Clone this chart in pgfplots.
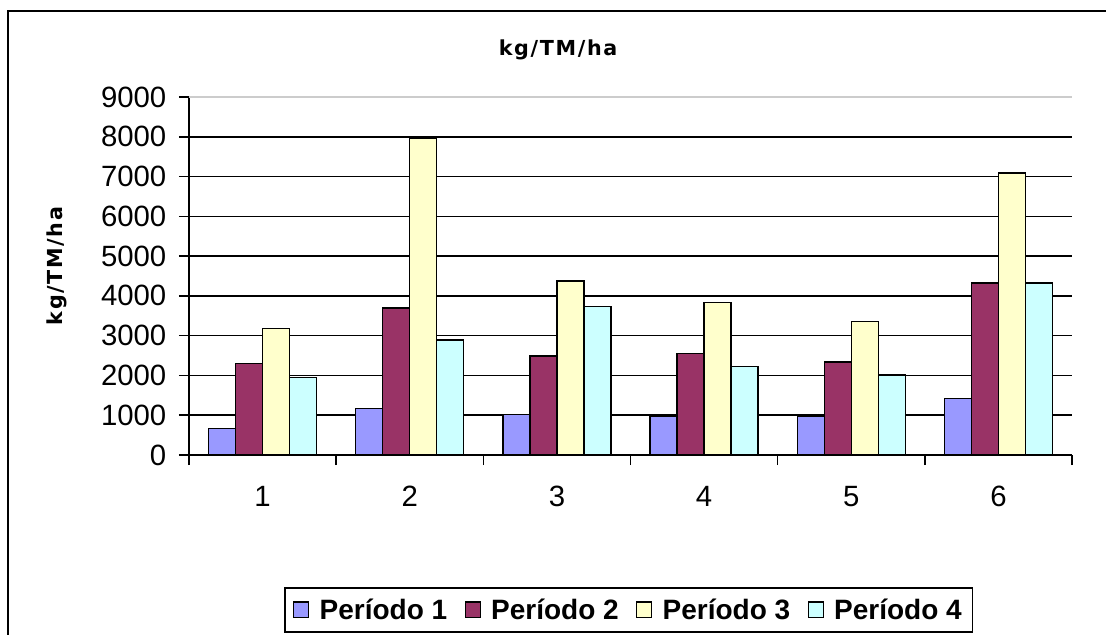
\documentclass[border=0pt]{standalone}
\usepackage{fontspec}
\setmainfont{Liberation Sans}
\newfontfamily\verdana[LetterSpace=8]{DejaVu Sans}
\usepackage{pgfplots}
\pgfplotsset{compat=1.18}

\definecolor{per1}{HTML}{9999FF}
\definecolor{per2}{HTML}{993366}
\definecolor{per3}{HTML}{FFFFCC}
\definecolor{per4}{HTML}{CCFFFF}

\begin{document}
\begin{tikzpicture}
% 1 px of the reference = 0.75pt
\useasboundingbox (0,0) rectangle (829.5pt,-476.25pt);
\draw[line width=1.5pt] (6pt,-8.25pt) rectangle (845pt,-495pt);
\begin{axis}[
    at={(141.75pt,-341.25pt)}, anchor=south west,
    width=662.25pt, height=268.5pt, scale only axis,
    xmin=0.5, xmax=6.5, ymin=0, ymax=9000,
    axis x line=bottom, axis y line=left,
    axis line style={-, line width=1.1pt},
    ybar=0pt, bar width=20.25pt,
    xtick={0.5,1.5,...,6.5}, xticklabels={},
    extra x ticks={1,2,3,4,5,6},
    extra x tick labels={1,2,3,4,5,6},
    extra x tick style={major tick length=0pt},
    ytick={0,1000,...,8000},
    extra y ticks={9000},
    extra y tick style={major grid style={black!20, line width=1.1pt}},
    ymajorgrids, major grid style={black, line width=1.1pt},
    tick align=outside, major tick length=7.5pt,
    tick style={black, line width=1.1pt},
    scaled y ticks=false,
    /pgf/number format/1000 sep={},
    /pgf/number format/assume math mode=true,
    tick label style={font=\fontsize{22}{26}\selectfont},
    yticklabel style={xshift=-6pt},
    xticklabel style={yshift=-20pt},
    title={kg/TM/ha},
    title style={at={(axis description cs:0.418,1.095)}, anchor=base,
        font=\verdana\bfseries\fontsize{15.5}{18}\selectfont},
    ylabel={kg/TM/ha},
    ylabel style={at={(axis description cs:-0.1495,0.528)}, anchor=center,
        font=\verdana\bfseries\fontsize{15.5}{18}\selectfont},
    legend columns=4,
    legend style={at={(axis description cs:0.498,-0.433)}, anchor=center,
        draw=black, line width=1.1pt, inner xsep=6pt, inner ysep=6pt,
        font=\bfseries\fontsize{21}{25}\selectfont,
        /tikz/every even column/.append style={column sep=11pt}},
    every axis plot post/.append style={
        legend image code/.code={\draw[#1, line width=0.8pt] (0pt,-5.5pt) rectangle (11.5pt,6pt);
            \path (17pt,0pt);}},
]
\addplot[fill=per1, draw=black, line width=1.1pt] coordinates {
    (1,670) (2,1170) (3,1020) (4,980) (5,980) (6,1420)
};
\addplot[fill=per2, draw=black, line width=1.1pt] coordinates {
    (1,2300) (2,3690) (3,2490) (4,2550) (5,2340) (6,4330)
};
\addplot[fill=per3, draw=black, line width=1.1pt] coordinates {
    (1,3180) (2,7960) (3,4370) (4,3835) (5,3350) (6,7090)
};
\addplot[fill=per4, draw=black, line width=1.1pt] coordinates {
    (1,1950) (2,2890) (3,3730) (4,2220) (5,2010) (6,4330)
};
\legend{Período 1, Período 2, Período 3, Período 4}
\end{axis}
\end{tikzpicture}
\end{document}
